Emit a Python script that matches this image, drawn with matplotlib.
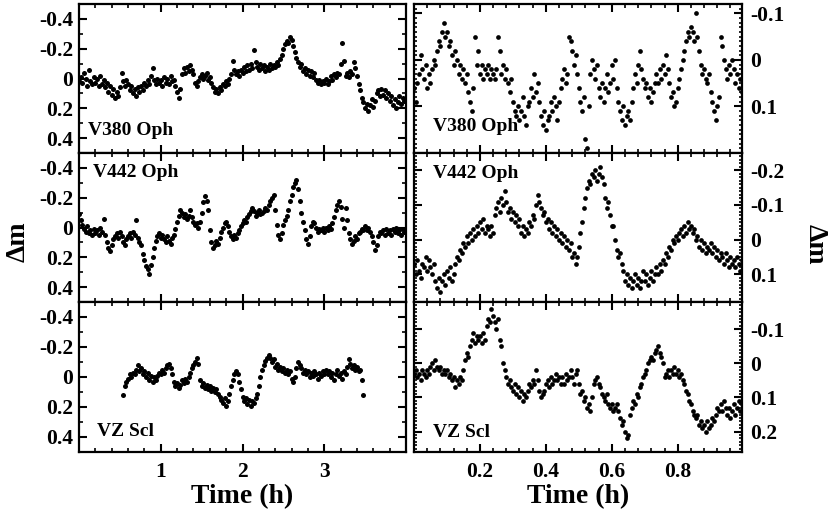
import numpy as np
import matplotlib
matplotlib.use("Agg")
import matplotlib.pyplot as plt
from matplotlib.ticker import MultipleLocator

# ---------------- data ----------------
# Left column: full 4-h light curves, sampled every 0.02 h
v380_long_start, v380_long_step = 0.0, 0.02
v380_long = [
    0.02, -0.01, 0.03, -0.04, 0.00, 0.05, -0.06, 0.02, 0.04, -0.01,
    0.03, 0.00, 0.05, -0.02, 0.04, 0.01, 0.06, 0.03, 0.09, 0.05,
    0.11, 0.07, 0.13, 0.09, 0.12, 0.06, -0.04, 0.02, 0.05, 0.01,
    0.04, 0.08, 0.05, 0.10, 0.07, 0.12, 0.06, 0.09, 0.05, 0.08,
    0.03, 0.05, 0.01, 0.04, -0.02, -0.07, 0.01, 0.04, 0.00, 0.03,
    0.01, 0.05, -0.01, 0.03, 0.00, 0.04, -0.02, 0.02, 0.01, 0.05,
    0.09, 0.13, 0.07, -0.03, -0.07, -0.04, -0.08, -0.05, -0.09, -0.06,
    -0.03, 0.03, 0.05, 0.02, -0.01, -0.03, 0.00, -0.02, -0.04, 0.01,
    -0.01, 0.03, 0.06, 0.09, 0.07, 0.10, 0.06, 0.08, 0.04, 0.05,
    0.02, 0.04, 0.00, -0.03, -0.12, -0.06, -0.03, -0.05, -0.02, -0.06,
    -0.04, -0.08, -0.05, -0.09, -0.06, -0.10, -0.07, -0.19, -0.11, -0.08,
    -0.06, -0.10, -0.07, -0.09, -0.05, -0.08, -0.06, -0.10, -0.07, -0.09,
    -0.08, -0.11, -0.09, -0.13, -0.16, -0.20, -0.23, -0.25, -0.24, -0.28,
    -0.26, -0.22, -0.18, -0.14, -0.11, -0.08, -0.10, -0.05, -0.07, -0.03,
    -0.06, -0.02, -0.05, -0.01, -0.04, 0.01, 0.03, 0.01, 0.04, 0.02,
    0.03, 0.00, 0.04, 0.02, -0.02, 0.01, -0.03, -0.01, -0.04, -0.03,
    -0.10, -0.24, -0.12, -0.02, -0.04, -0.01, -0.05, -0.03, -0.11, -0.07,
    -0.02, 0.04, 0.08, 0.13, 0.16, 0.20, 0.17, 0.22, 0.18, 0.14,
    0.19, 0.15, 0.10, 0.08, 0.12, 0.07, 0.11, 0.08, 0.13, 0.10,
    0.15, 0.12, 0.18, 0.14, 0.20, 0.16, 0.12, 0.17, 0.13, 0.15,
]

v442_long_start, v442_long_step = 0.0, 0.02
v442_long = [
    -0.09, -0.05, -0.02, 0.01, 0.03, -0.01, 0.04, 0.02, 0.05, 0.01,
    0.04, 0.02, 0.05, 0.00, 0.03, -0.06, 0.05, 0.10, 0.14, 0.16,
    0.12, 0.08, 0.06, 0.04, 0.07, 0.03, 0.06, 0.10, 0.12, 0.08,
    0.06, 0.04, 0.07, 0.03, 0.05, -0.05, 0.07, 0.10, 0.12, 0.18,
    0.22, 0.26, 0.28, 0.31, 0.25, 0.20, 0.14, 0.09, 0.06, 0.04,
    0.07, 0.05, 0.08, 0.10, 0.06, 0.09, 0.11, 0.07, 0.05, 0.01,
    -0.04, -0.08, -0.12, -0.10, -0.07, -0.09, -0.06, -0.08, -0.12, -0.07,
    -0.04, -0.02, -0.03, 0.00, -0.04, -0.10, -0.17, -0.21, -0.18, -0.12,
    0.02, 0.10, 0.14, 0.12, 0.09, 0.11, 0.07, 0.03, 0.00, -0.03,
    -0.04, -0.01, 0.03, 0.06, 0.08, 0.05, 0.07, 0.04, 0.02, -0.01,
    -0.03, -0.05, -0.04, -0.07, -0.09, -0.11, -0.13, -0.11, -0.08, -0.10,
    -0.12, -0.09, -0.10, -0.11, -0.13, -0.12, -0.15, -0.18, -0.20, -0.22,
    -0.12, -0.02, 0.05, 0.08, 0.04, -0.02, -0.05, -0.08, -0.12, -0.18,
    -0.22, -0.27, -0.30, -0.32, -0.26, -0.18, -0.10, -0.04, 0.02, 0.08,
    0.11, 0.06, -0.01, -0.04, -0.03, 0.00, 0.03, 0.01, 0.02, 0.00,
    0.03, 0.00, 0.02, -0.01, 0.01, -0.03, -0.07, -0.12, -0.15, -0.18,
    -0.14, -0.06, 0.00, -0.13, -0.05, 0.04, 0.08, 0.11, 0.09, 0.06,
    0.08, 0.04, 0.03, 0.01, 0.02, -0.01, 0.02, 0.00, 0.03, 0.06,
    0.10, 0.15, 0.12, 0.06, 0.03, 0.04, 0.02, 0.05, 0.01, 0.04,
    0.02, 0.05, 0.01, 0.03, 0.00, 0.04, 0.02, 0.05, 0.01, 0.03,
]

vzscl_long_start, vzscl_long_step = 0.54, 0.02
vzscl_long = [
    0.12, 0.06, 0.03, 0.01, -0.02, 0.00, -0.03, -0.02, -0.05, -0.08,
    -0.04, -0.06, -0.02, -0.04, 0.00, -0.03, 0.02, -0.01, 0.03, 0.00,
    0.02, -0.01, -0.03, -0.02, -0.05, -0.03, -0.06, -0.08, -0.09, -0.06,
    -0.02, 0.03, 0.06, 0.04, 0.07, 0.05, 0.02, 0.04, 0.01, 0.03,
    0.00, -0.03, -0.06, -0.08, -0.10, -0.13, -0.09, 0.02, 0.06, 0.04,
    0.07, 0.05, 0.08, 0.06, 0.09, 0.07, 0.10, 0.08, 0.11, 0.13,
    0.15, 0.17, 0.14, 0.19, 0.16, 0.11, 0.06, 0.02, -0.02, -0.04,
    -0.02, 0.03, 0.08, 0.13, 0.16, 0.14, 0.18, 0.15, 0.19, 0.16,
    0.17, 0.14, 0.11, 0.06, 0.00, -0.05, -0.08, -0.11, -0.13, -0.15,
    -0.13, -0.10, -0.12, -0.07, -0.09, -0.05, -0.07, -0.04, -0.06, -0.03,
    -0.05, -0.02, -0.04, 0.01, 0.03, 0.00, -0.06, -0.10, -0.08, -0.06,
    -0.03, -0.05, -0.02, -0.04, 0.00, -0.03, -0.01, -0.04, -0.02, 0.01,
    -0.03, -0.01, -0.04, -0.02, -0.05, -0.02, -0.04, 0.00, -0.03, 0.02,
    -0.02, -0.05, -0.01, -0.03, 0.01, -0.04, -0.02, -0.07, -0.12, -0.09,
    -0.06, -0.08, -0.05, -0.07, -0.04, -0.05, 0.02, 0.12,
]

# Right column: first hour, sampled every 0.005 h
v380_short_start, v380_short_step = 0.0, 0.005
v380_short = [
    0.06, 0.09, 0.05, 0.03, -0.01, 0.02, 0.04, 0.01, 0.06, 0.03,
    0.05, 0.02, 0.00, 0.01, -0.02, -0.04, -0.03, -0.06, -0.08, -0.05,
    -0.06, -0.03, -0.04, -0.01, 0.01, -0.02, 0.00, 0.03, 0.01, 0.04,
    0.02, 0.05, 0.03, 0.07, 0.09, 0.11, 0.06, -0.05, 0.01, -0.02,
    0.03, 0.01, 0.04, 0.02, 0.03, 0.01, 0.04, 0.02, 0.03, 0.04,
    0.02, -0.05, -0.02, 0.03, 0.01, 0.04, 0.02, 0.05, 0.07, 0.04,
    0.09, 0.11, 0.12, 0.10, 0.13, 0.11, 0.08, 0.12, 0.14, 0.10,
    0.09, 0.06, 0.08, 0.03, 0.07, 0.05, 0.09, 0.12, 0.14, 0.11,
    0.15, 0.13, 0.12, 0.09, 0.11, 0.08, 0.10, 0.13, 0.09, 0.06,
    0.04, 0.02, 0.05, 0.03, -0.05, -0.04, -0.02, 0.01, -0.01, 0.03,
    0.06, 0.09, 0.11, 0.08, 0.17, 0.19, 0.10, 0.03, 0.00, 0.02,
    0.04, 0.01, 0.06, 0.08, 0.05, 0.09, 0.06, 0.03, 0.07, 0.05,
    0.01, 0.04, 0.00, 0.06, 0.09, 0.11, 0.13, 0.10, 0.14, 0.12,
    0.11, 0.13, 0.09, 0.06, 0.03, 0.05, 0.01, -0.02, 0.02, 0.04,
    0.06, 0.05, 0.08, 0.06, 0.09, 0.07, 0.05, 0.03, 0.05, 0.02,
    0.04, 0.01, 0.03, -0.01, 0.02, 0.05, 0.08, 0.07, 0.10, 0.09,
    0.06, 0.04, 0.02, 0.00, -0.02, -0.04, -0.06, -0.05, -0.07, -0.06,
    -0.04, -0.10, -0.05, -0.02, 0.01, 0.03, 0.02, 0.04, 0.05, 0.03,
    0.07, 0.09, 0.11, 0.13, 0.10, 0.08, -0.05, -0.03, 0.00, 0.02,
    0.04, 0.01, 0.03, 0.00, 0.02, 0.05, 0.03, 0.06, 0.04, 0.07,
]

v442_short_start, v442_short_step = 0.0, 0.005
v442_short = [
    0.07, 0.10, 0.06, 0.09, 0.11, 0.07, 0.08, 0.05, 0.09, 0.06,
    0.08, 0.10, 0.07, 0.12, 0.14, 0.11, 0.15, 0.12, 0.10, 0.13,
    0.09, 0.11, 0.08, 0.12, 0.10, 0.07, 0.05, 0.06, 0.03, 0.04,
    0.01, 0.02, -0.01, 0.01, -0.02, 0.00, -0.03, -0.01, -0.04, -0.02,
    -0.05, -0.03, -0.06, -0.02, -0.04, -0.03, -0.01, -0.04, -0.02, -0.07,
    -0.09, -0.11, -0.08, -0.12, -0.10, -0.14, -0.11, -0.08, -0.09, -0.06,
    -0.08, -0.05, -0.07, -0.04, -0.06, -0.02, -0.04, -0.01, -0.03, -0.02,
    -0.05, -0.04, -0.07, -0.06, -0.10, -0.13, -0.11, -0.09, -0.07, -0.08,
    -0.05, -0.06, -0.03, -0.05, -0.02, -0.04, -0.01, -0.03, 0.00, -0.02,
    0.01, -0.01, 0.02, 0.00, 0.03, 0.01, 0.05, 0.04, 0.07, 0.05,
    0.02, -0.02, -0.05, -0.09, -0.12, -0.15, -0.17, -0.16, -0.19, -0.18,
    -0.20, -0.17, -0.19, -0.21, -0.18, -0.16, -0.12, -0.09, -0.11, -0.07,
    -0.04, -0.04, 0.00, 0.03, 0.05, 0.04, 0.07, 0.09, 0.12, 0.10,
    0.13, 0.11, 0.14, 0.12, 0.10, 0.13, 0.11, 0.14, 0.12, 0.09,
    0.12, 0.10, 0.13, 0.11, 0.09, 0.12, 0.10, 0.08, 0.10, 0.07,
    0.09, 0.06, 0.07, 0.04, 0.05, 0.02, 0.03, 0.00, 0.01, -0.01,
    0.00, -0.02, -0.03, -0.01, -0.04, -0.02, -0.05, -0.03, -0.04, -0.02,
    -0.03, 0.00, -0.01, 0.02, 0.00, 0.03, 0.01, 0.04, 0.02, 0.03,
    0.01, 0.04, 0.02, 0.05, 0.03, 0.06, 0.04, 0.05, 0.07, 0.04,
    0.06, 0.08, 0.05, 0.07, 0.06, 0.08, 0.05, 0.07, 0.09, 0.06,
]

vzscl_short_start, vzscl_short_step = 0.0, 0.005
vzscl_short = [
    0.03, 0.02, 0.04, 0.03, 0.05, 0.02, 0.03, 0.04, 0.02, 0.03,
    0.01, 0.00, 0.02, -0.01, 0.01, 0.02, 0.01, 0.03, 0.02, 0.03,
    0.02, 0.04, 0.03, 0.05, 0.04, 0.07, 0.05, 0.06, 0.04, 0.05,
    0.02, -0.01, -0.03, -0.02, -0.05, -0.07, -0.09, -0.06, -0.08, -0.07,
    -0.08, -0.06, -0.09, -0.07, -0.11, -0.13, -0.12, -0.16, -0.14, -0.12,
    -0.10, -0.13, -0.07, -0.05, 0.00, 0.02, 0.04, 0.06, 0.05, 0.07,
    0.08, 0.06, 0.09, 0.07, 0.10, 0.08, 0.11, 0.09, 0.10, 0.08,
    0.06, 0.07, 0.05, 0.06, 0.02, 0.05, 0.08, 0.10, 0.09, 0.08,
    0.06, 0.05, 0.07, 0.04, 0.06, 0.05, 0.03, 0.05, 0.04, 0.06,
    0.04, 0.06, 0.03, 0.05, 0.04, 0.02, 0.04, 0.06, 0.03, 0.02,
    0.06, 0.09, 0.08, 0.11, 0.10, 0.13, 0.12, 0.14, 0.10, 0.06,
    0.05, 0.04, 0.06, 0.07, 0.09, 0.10, 0.11, 0.09, 0.12, 0.13,
    0.12, 0.14, 0.13, 0.12, 0.14, 0.16, 0.18, 0.17, 0.20, 0.22,
    0.21, 0.15, 0.13, 0.11, 0.12, 0.09, 0.10, 0.07, 0.06, 0.04,
    0.03, 0.02, 0.00, -0.01, -0.02, -0.01, -0.03, -0.04, -0.05, -0.03,
    -0.02, 0.00, 0.04, 0.03, 0.02, 0.04, 0.02, 0.03, 0.01, 0.03,
    0.02, 0.04, 0.03, 0.05, 0.06, 0.08, 0.09, 0.11, 0.12, 0.14,
    0.15, 0.16, 0.15, 0.18, 0.17, 0.19, 0.18, 0.20, 0.17, 0.19,
    0.18, 0.16, 0.17, 0.15, 0.13, 0.14, 0.12, 0.14, 0.11, 0.13,
    0.15, 0.13, 0.16, 0.14, 0.12, 0.15, 0.13, 0.11, 0.14, 0.12,
]

star_names = ["V380 Oph", "V442 Oph", "VZ Scl"]
left_yticks = [-0.4, -0.2, 0.0, 0.2, 0.4]
left_ylabels = ["-0.4", "-0.2", "0", "0.2", "0.4"]
right_yticks = [[-0.1, 0.0, 0.1], [-0.2, -0.1, 0.0, 0.1], [-0.1, 0.0, 0.1, 0.2]]
right_ylabels = [["-0.1", "0", "0.1"], ["-0.2", "-0.1", "0", "0.1"], ["-0.1", "0", "0.1", "0.2"]]
right_ylims = [(0.2, -0.12), (0.18, -0.25), (0.26, -0.18)]
left_xticks = [1, 2, 3]
left_xlabels = ["1", "2", "3"]
right_xticks = [0.2, 0.4, 0.6, 0.8]
right_xlabels = ["0.2", "0.4", "0.6", "0.8"]

# ---------------- styling ----------------
plt.rcParams["font.family"] = ["Liberation Serif", "DejaVu Serif"]
plt.rcParams["font.weight"] = "bold"
plt.rcParams["axes.unicode_minus"] = False

W, H = 830, 512
fig = plt.figure(figsize=(W / 100, H / 100), dpi=100)


def rect(x0, y0, x1, y1):
    return [x0 / W, 1 - y1 / H, (x1 - x0) / W, (y1 - y0) / H]


rows = [(4, 153), (153, 302), (302, 452)]
cols = [(79, 406), (414, 742)]

long_series = [(v380_long_start, v380_long_step, v380_long),
               (v442_long_start, v442_long_step, v442_long),
               (vzscl_long_start, vzscl_long_step, vzscl_long)]
short_series = [(v380_short_start, v380_short_step, v380_short),
                (v442_short_start, v442_short_step, v442_short),
                (vzscl_short_start, vzscl_short_step, vzscl_short)]

label_pos_left = [(0.028, 0.12), (0.043, 0.84), (0.055, 0.105)]
label_pos_right = [(0.058, 0.15), (0.058, 0.83), (0.058, 0.10)]


def style(ax, left):
    for sp in ax.spines.values():
        sp.set_linewidth(1.6)
    ax.tick_params(which="both", direction="in", top=True, bottom=True,
                   left=True, right=True, labelsize=15.5)
    ax.tick_params(which="major", length=6, width=1.5)
    ax.tick_params(which="minor", length=3, width=1.2)
    ax.tick_params(axis="y", labelleft=left, labelright=not left,
                   pad=4 if left else 6)
    ax.tick_params(axis="x", pad=7)


for i in range(3):
    # left column
    axL = fig.add_axes(rect(cols[0][0], rows[i][0], cols[0][1], rows[i][1]))
    s0, st, vals = long_series[i]
    t = s0 + st * np.arange(len(vals))
    axL.plot(t, vals, "o", color="black", ms=3.6, mew=0)
    axL.set_xlim(0, 4)
    axL.set_ylim(0.5, -0.5)
    axL.set_yticks(left_yticks, left_ylabels)
    axL.yaxis.set_minor_locator(MultipleLocator(0.1))
    axL.set_xticks(left_xticks, left_xlabels)
    axL.xaxis.set_minor_locator(MultipleLocator(0.2))
    style(axL, True)
    axL.text(*label_pos_left[i], star_names[i], transform=axL.transAxes,
             fontsize=14, fontweight="bold", ha="left", va="baseline")

    # right column
    axR = fig.add_axes(rect(cols[1][0], rows[i][0], cols[1][1], rows[i][1]))
    s0, st, vals = short_series[i]
    t = s0 + st * np.arange(len(vals))
    axR.plot(t, vals, "o", color="black", ms=3.4, mew=0)
    axR.set_xlim(0, 0.995)
    axR.set_ylim(*right_ylims[i])
    axR.set_yticks(right_yticks[i], right_ylabels[i])
    axR.yaxis.set_minor_locator(MultipleLocator(0.01))
    axR.set_xticks(right_xticks, right_xlabels)
    axR.xaxis.set_minor_locator(MultipleLocator(0.04))
    style(axR, False)
    axR.tick_params(which="minor", axis="y", length=2)
    axR.text(*label_pos_right[i], star_names[i], transform=axR.transAxes,
             fontsize=14, fontweight="bold", ha="left", va="baseline")

    if i < 2:
        axL.tick_params(axis="x", labelbottom=False)
        axR.tick_params(axis="x", labelbottom=False)
    else:
        axL.set_xlabel("Time (h)", fontsize=20, fontweight="bold", labelpad=2)
        axR.set_xlabel("Time (h)", fontsize=20, fontweight="bold", labelpad=2)

fig.text(18 / W, 1 - 242 / H, "Δm", rotation=90, fontsize=20,
         fontweight="bold", ha="center", va="center")
fig.text(815 / W, 1 - 244 / H, "Δm", rotation=270, fontsize=20,
         fontweight="bold", ha="center", va="center")

fig.savefig("out.png", dpi=100)
